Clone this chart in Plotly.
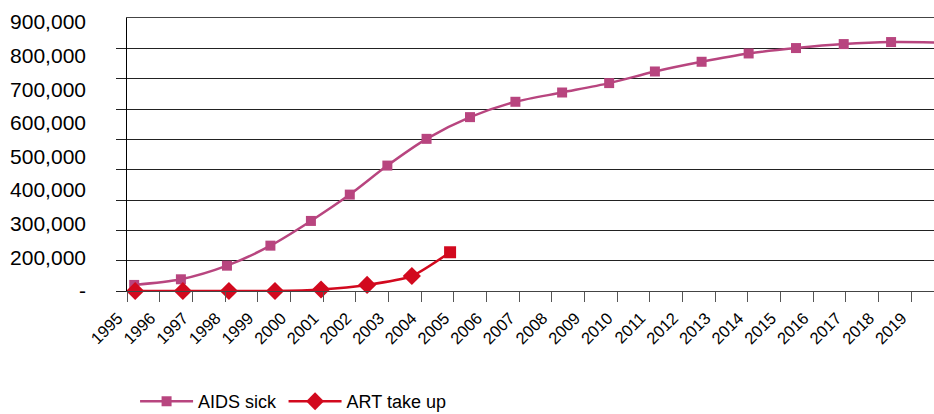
import plotly.graph_objects as go

# AIDS sick: cumulative cases, sampled at fractional years
aids_years = [1995.22, 1996.65, 1998.06, 1999.39, 2000.63, 2001.82, 2002.97,
              2004.17, 2005.50, 2006.89, 2008.32, 2009.76, 2011.16, 2012.59,
              2014.03, 2015.48, 2016.94, 2018.39, 2019.83]
aids_sick = [20000, 38600, 83500, 149500, 231000, 317800, 413500,
             501600, 573200, 623800, 654400, 685400, 723700, 755700,
             783100, 800900, 814100, 820700, 819400]

# ART take up
art_years = [1995.25, 1996.71, 1998.12, 1999.53, 2000.94, 2002.35, 2003.72, 2004.89]
art_take_up = [0, 0, 0, 0, 5000, 20000, 49500, 127700]

# Axis labels
year_ticks = list(range(1995, 2020))
value_labels = ["-", "200,000", "300,000", "400,000", "500,000",
                "600,000", "700,000", "800,000", "900,000"]

FONT = "Arial, 'Liberation Sans', sans-serif"
AIDS_COLOR = "#b8457f"
ART_COLOR = "#d2091e"

fig = go.Figure()

fig.add_trace(go.Scatter(
    x=aids_years, y=aids_sick, name="AIDS sick",
    mode="lines+markers",
    line=dict(color=AIDS_COLOR, width=2.5, shape="spline", smoothing=0.8),
    marker=dict(symbol="square", size=10, color=AIDS_COLOR, opacity=1,
                line=dict(width=0)),
    cliponaxis=False, legend="legend",
))

art_symbols = ["diamond"] * (len(art_years) - 1) + ["square"]
art_sizes = [14] * (len(art_years) - 1) + [12]
fig.add_trace(go.Scatter(
    x=art_years, y=art_take_up, name="ART take up",
    mode="lines+markers",
    line=dict(color=ART_COLOR, width=2.5, shape="spline", smoothing=0.6),
    marker=dict(symbol=art_symbols, size=art_sizes, color=ART_COLOR, opacity=1,
                line=dict(width=0, color=ART_COLOR)),
    cliponaxis=False, legend="legend2",
))

# Invisible trace that carries the value-label axis
fig.add_trace(go.Scatter(x=[1995], y=[0], yaxis="y2", mode="markers",
                         marker=dict(opacity=0), showlegend=False,
                         hoverinfo="skip"))

plot_w = 934 - 127
px_per_year = 32.667

legend_style = dict(orientation="h", xanchor="left", y=-0.405, yanchor="middle",
                    font=dict(size=18, family=FONT), itemwidth=53,
                    bgcolor="rgba(0,0,0,0)")

fig.update_layout(
    width=934, height=414,
    margin=dict(l=127, r=0, t=18, b=123, autoexpand=False),
    paper_bgcolor="white", plot_bgcolor="white",
    font=dict(family=FONT, color="#000"),
    showlegend=True,
    legend=dict(x=0.01, **legend_style),
    legend2=dict(x=0.194, **legend_style),
    xaxis=dict(
        range=[1995, 1995 + plot_w / px_per_year],
        tickvals=year_ticks, ticktext=[str(y) for y in year_ticks],
        tickangle=-45, tickfont=dict(size=16.5, family=FONT),
        ticks="outside", ticklen=10, tickcolor="#555", tickwidth=1,
        ticklabelstandoff=0, ticklabelshift=-9,
        showline=True, linecolor="#444", linewidth=1, mirror=True,
        showgrid=False, zeroline=False, automargin=False,
    ),
    yaxis=dict(
        range=[0, 900000],
        tickvals=[0, 100000, 200000, 300000, 400000, 500000, 600000, 700000, 800000],
        showticklabels=False,
        ticks="outside", ticklen=10, tickcolor="#222", tickwidth=1,
        showline=True, linecolor="#000", linewidth=1,
        showgrid=True, gridcolor="#222", gridwidth=1, zeroline=False,
        automargin=False,
    ),
    yaxis2=dict(
        overlaying="y", side="left", anchor="x",
        range=[0, 8.116],
        tickvals=list(range(len(value_labels))), ticktext=value_labels,
        tickfont=dict(size=21, family=FONT),
        ticks="", showline=False, showgrid=False, zeroline=False,
        ticklabelstandoff=40, automargin=False,
    ),
)

fig.write_html("out.html")
